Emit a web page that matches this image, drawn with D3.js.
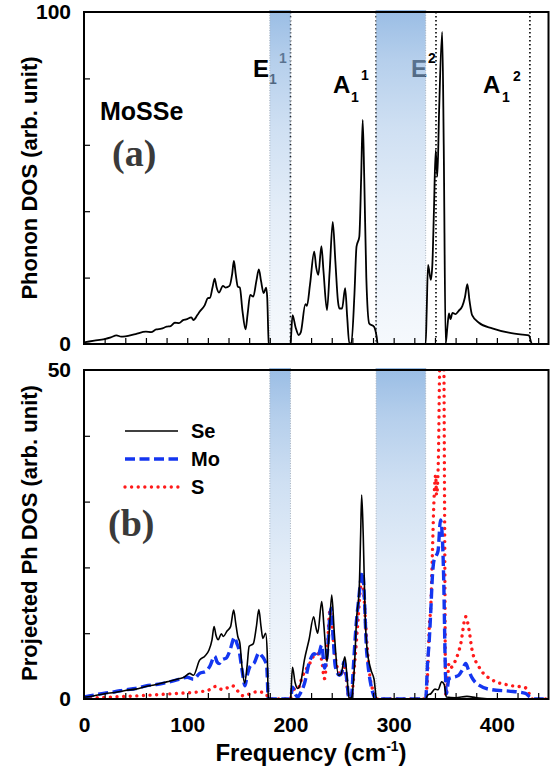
<!DOCTYPE html>
<html>
<head>
<meta charset="utf-8">
<script src="https://cdn.jsdelivr.net/npm/d3@7"></script>
<style>
  html, body { margin: 0; padding: 0; background: #fff; }
  svg { display: block; }
  text { font-family: "Liberation Sans", Arial, sans-serif; font-weight: bold; }
  text.tag { font-family: "Liberation Serif", "Times New Roman", serif; font-weight: bold; }
</style>
</head>
<body>
<svg id="chart" width="556" height="775"></svg>
<script>
// Total phonon DOS of MoSSe: [frequency (cm-1), DOS]
const totalDOS = [[0,0.5],[10,1.0],[20,1.5],[26,2.0],[31.5,2.6],[36,2.2],[40,2.3],[50,3.0],[60,3.7],[65,3.6],[70,4.4],[75,4.6],[80,5.2],[84,5.4],[88,6.4],[92,6.3],[96,7.2],[99,7.4],[104,8.0],[106,7.2],[110,8.8],[112,9.7],[117,11.7],[120,13.8],[122,13.9],[124.5,17],[126.6,19.7],[128.5,17],[130.7,15.5],[134.6,17.5],[137,17.0],[141,17.5],[143.5,21],[145.2,25],[147,21],[149,17.3],[151,17],[153.5,10],[156.5,4.4],[158.5,9],[161,14.8],[164,14.3],[167,19],[169.4,22.5],[171.5,19],[174,15.3],[176.5,17],[177.5,14],[179,0.2],[180,0],[200,0],[202,8.7],[205,5],[208,2.7],[210,3.5],[214.5,12],[216,11.5],[219,18],[223,27.8],[225,23],[227,20.8],[230,29.5],[232,22],[235.4,10.2],[238,22],[241,36.8],[243.5,25],[246,13],[247.4,10.7],[250,10.7],[253,16.8],[255,8],[257,0.2],[259,0.2],[262,15],[264,29.3],[266.7,32.3],[268.5,50],[270,67.5],[271.5,50],[273.5,20],[276.3,6.2],[281,5.2],[283.5,2.2],[284.5,0],[331,0],[332,10],[333.3,23.8],[336,19.3],[337.5,24],[339,40],[340.7,58.4],[342.3,50.4],[344,70],[347,94],[348.5,60],[350.4,0.2],[352,5],[353.6,9.2],[355,7.5],[357,9.4],[360,9],[363,10],[366.5,11.4],[369,14],[371.4,18],[373.5,13],[376,8.7],[382.6,6.4],[395.5,4.7],[411.6,3.4],[425,2.8],[431,2.6],[434,0],[450,0]];

// Projected phonon DOS per atom species
const seDOS = [[0,0.26],[10,0.5],[20,0.8],[30,1.0],[40,1.3],[50,1.5],[60,1.9],[70,2.2],[80,2.6],[92.7,3.1],[97,3.3],[102.4,3.9],[106,3.6],[112,5.9],[117,6.5],[121,7.4],[124,9],[126,11],[128,9.6],[130,9],[133,9.9],[135,9.5],[138.4,10.3],[142,11],[145,13.5],[147,11.5],[149,9.5],[151,8.5],[153,5],[155.6,2.4],[158,5],[160,8],[164,8.4],[167,11],[169.4,13.6],[171.5,11],[173.3,9.2],[176,10],[177.5,7],[178.6,0.2],[180,0],[200,0],[202,4.8],[204.5,2.5],[207,1.6],[210,2.5],[213.5,5.9],[218,9],[222.5,12.5],[224.5,11],[226.4,10],[230.3,14.8],[232.5,11],[235.4,5.7],[237.5,10],[240,15.8],[242.5,10],[246.4,3.6],[249,3.8],[252.8,6.4],[255,3],[256.8,0.1],[259,0.2],[262,5],[264,12],[266.7,17],[268,25],[269,31],[270.5,25],[272.5,12],[274,8],[278,4.4],[281,3],[283.5,0],[331,0],[333,0.6],[336,0.8],[340,1.5],[343,1.4],[346.5,2.6],[349,2.2],[351,0.3],[360,0.2],[371,0.4],[380,0.2],[400,0],[450,0]];

const moDOS = [[0,0.3],[10,0.6],[20,0.9],[30,1.1],[40,1.4],[50,1.6],[60,2.0],[70,2.2],[80,2.5],[90,2.9],[100,3.3],[106,3.0],[112,3.9],[118,4.2],[122,5],[126.6,6.5],[129,5.6],[131,5.4],[134,6.0],[137.8,6.2],[141,7.2],[146,9.4],[148,8.5],[150,7.6],[153,4.5],[156,2],[158,3.5],[161,5],[165,5.5],[169.4,7],[172,6.6],[175,5.9],[177,5],[178.5,0.2],[180,0],[200,0],[202,1.8],[204.5,0.8],[207,0.3],[210,1],[213.5,2.3],[218,5.4],[223,6.9],[226.5,6.4],[230.3,8.2],[233,4.7],[235.4,6.5],[239.3,13.8],[241.5,9],[243.5,4.9],[247.4,3.6],[249.5,3.9],[252,5.7],[254.5,3],[256.8,0],[259,0.3],[261,5],[263.5,11],[266,15],[268,18],[270,19.3],[272,14],[273.5,8],[275,5.4],[279.5,1.1],[283,0],[331,0],[333,5.9],[334.3,8.5],[336,13.5],[337.5,18.6],[339,21],[341,21.7],[343,22.5],[345.4,27.2],[347,25],[348.5,18],[350,5],[351,0.8],[353.6,3.1],[357,3.3],[360,3.4],[363,3.6],[366.5,4.4],[369.8,5.4],[372.5,4.4],[376,3.2],[382.6,2.1],[395.5,1.4],[411.6,1.2],[427.7,0.87],[432,0.3],[437,0],[450,0]];

const sDOS = [[0,0.1],[20,0.25],[47.6,0.45],[70,0.65],[90,0.85],[112,1.1],[120,1.3],[127.5,1.9],[131,1.6],[134,1.45],[139,1.7],[144,2],[147,1.6],[151,0.8],[154,0.5],[158,0.6],[162,0.9],[169,1.1],[173,1.0],[177,0.6],[179,0.1],[180,0],[200,0],[202,1.8],[204.5,1.4],[207,1.5],[212,3.6],[218,5.2],[224.8,6.9],[227.5,6.8],[230,6.1],[233,3.1],[235.5,7],[238.3,13.5],[240.5,11],[242.5,7.4],[248.8,3.6],[252.2,4.9],[254.5,2.5],[256.8,0],[259,0.3],[262.5,6],[265.5,12],[268.3,17.3],[270,17.8],[271.5,15],[273,11],[276.3,4.4],[281,0.8],[283,0],[331,0],[333,4.3],[334.5,11],[336,14.2],[337.5,22],[339,30],[340.7,34],[341.6,31],[343.3,36.3],[344.5,50],[346,60],[347.5,64],[348.5,56],[349.3,30],[350.4,0.5],[352,2.4],[353.6,5.4],[355.5,4.8],[360,5.9],[365,8.4],[369.8,12.5],[373,10.5],[376,7.4],[382.6,4.9],[395.5,2.9],[411.6,2.1],[427.7,1.7],[431,0.9],[434,0],[450,0]];

// Phonon gaps (shaded) and mode markers
const gapBands = [[180, 200], [283, 331]];
const modeLines = [200, 283, 341, 432];

// Axis ticks
const xMinorTicks = d3.range(20, 450, 20);
const xTickLabels = [0, 100, 200, 300, 400];
const topMinorTicks = [20, 40, 60, 80];
const topTickLabels = [0, 100];
const botMinorTicks = [10, 20, 30, 40];
const botTickLabels = [0, 50];

const seriesNames = ["Se", "Mo", "S"];

const svg = d3.select("#chart");
const x = d3.scaleLinear().domain([0, 450]).range([84, 548.5]);
const yTop = d3.scaleLinear().domain([0, 100]).range([344, 12]);
const yBot = d3.scaleLinear().domain([0, 50]).range([699, 370]);

// Vertical fading gradient for the gap bands
const defs = svg.append("defs");
const grad = defs.append("linearGradient").attr("id", "gapGrad")
  .attr("x1", 0).attr("y1", 0).attr("x2", 0).attr("y2", 1);
[[0, 0.88], [0.15, 0.64], [0.35, 0.42], [0.6, 0.24], [1, 0.08]].forEach(([o, a]) => {
  grad.append("stop").attr("offset", o).attr("stop-color", "#8cb4e1").attr("stop-opacity", a);
});

function clip(id, yScale) {
  defs.append("clipPath").attr("id", id).append("rect")
    .attr("x", x.range()[0]).attr("y", yScale.range()[1])
    .attr("width", x.range()[1] - x.range()[0])
    .attr("height", yScale.range()[0] - yScale.range()[1]);
}
clip("clipTop", yTop);
clip("clipBot", yBot);

// ---------- mode labels (panel a) ----------
function modeLabel(parts) {
  const t = svg.append("text");
  parts.forEach(p => {
    t.append("tspan").attr("x", p.x).attr("y", p.y)
      .attr("font-size", p.size).attr("fill", "#000").text(p.t);
  });
}
modeLabel([{t: "E", x: 253, y: 77, size: 24},
           {t: "1", x: 269, y: 84, size: 14},
           {t: "1", x: 279, y: 63, size: 14}]);
modeLabel([{t: "A", x: 333, y: 93, size: 24},
           {t: "1", x: 351, y: 102, size: 14},
           {t: "1", x: 361, y: 80, size: 14}]);
modeLabel([{t: "E", x: 411, y: 77, size: 24},
           {t: "2", x: 428, y: 63, size: 14}]);
modeLabel([{t: "A", x: 483, y: 93, size: 24},
           {t: "1", x: 502, y: 102, size: 14},
           {t: "2", x: 513, y: 81, size: 14}]);

svg.append("text").attr("x", 100).attr("y", 120).attr("font-size", 25).text("MoSSe");

// mode marker lines (panel a)
svg.append("g").selectAll("line").data(modeLines).join("line")
  .attr("x1", d => x(d)).attr("x2", d => x(d))
  .attr("y1", yTop(100)).attr("y2", yTop(0))
  .attr("stroke", "#000").attr("stroke-width", 1.6)
  .attr("stroke-dasharray", "1.6,2.4");

// ---------- gap bands in both panels ----------
function bands(yScale) {
  const g = svg.append("g");
  const top = yScale.range()[1] - 2, bot = yScale.range()[0];
  g.selectAll("rect").data(gapBands).join("rect")
    .attr("x", d => x(d[0])).attr("width", d => x(d[1]) - x(d[0]))
    .attr("y", top).attr("height", bot - top)
    .attr("fill", "url(#gapGrad)");
  g.selectAll("line").data(gapBands.flat()).join("line")
    .attr("x1", d => x(d)).attr("x2", d => x(d))
    .attr("y1", top).attr("y2", bot)
    .attr("stroke", "#a9b3bf").attr("stroke-width", 1)
    .attr("stroke-dasharray", "1,1.5");
}
bands(yTop);
bands(yBot);

// ---------- curves ----------
function curve(data, yScale, clipId, style) {
  const line = d3.line().x(d => x(d[0])).y(d => yScale(d[1])).curve(d3.curveMonotoneX);
  const p = svg.append("path").datum(data)
    .attr("d", line).attr("fill", "none")
    .attr("clip-path", `url(#${clipId})`)
    .attr("stroke-linejoin", "round");
  Object.entries(style).forEach(([k, v]) => p.attr(k, v));
}
const styles = {
  Se: {"stroke": "#000", "stroke-width": 1.6},
  Mo: {"stroke": "#1436f0", "stroke-width": 3.4, "stroke-dasharray": "10,4.5"},
  S:  {"stroke": "#ff1a1a", "stroke-width": 3.4, "stroke-dasharray": "0.01,6.6", "stroke-linecap": "round"}
};
curve(totalDOS, yTop, "clipTop", {"stroke": "#000", "stroke-width": 1.8});
curve(sDOS, yBot, "clipBot", styles.S);
curve(moDOS, yBot, "clipBot", styles.Mo);
curve(seDOS, yBot, "clipBot", styles.Se);

// ---------- axes and frames ----------
function frame(yScale, minor, labels, showX) {
  const y0 = yScale.range()[0], y1 = yScale.range()[1];
  const g = svg.append("g");
  // inward minor ticks
  g.append("g").attr("transform", `translate(0,${y0})`)
    .call(d3.axisBottom(x).tickValues(xMinorTicks).tickSizeInner(-6).tickSizeOuter(0).tickFormat(""))
    .call(a => a.select(".domain").remove())
    .call(a => a.selectAll("line").attr("stroke", "#000").attr("stroke-width", 1.2));
  g.append("g").attr("transform", `translate(${x.range()[0]},0)`)
    .call(d3.axisLeft(yScale).tickValues(minor).tickSizeInner(-6).tickSizeOuter(0).tickFormat(""))
    .call(a => a.select(".domain").remove())
    .call(a => a.selectAll("line").attr("stroke", "#000").attr("stroke-width", 1.2));
  // y labels
  g.append("g").attr("transform", `translate(${x.range()[0]},0)`)
    .call(d3.axisLeft(yScale).tickValues(labels).tickSize(0).tickPadding(13))
    .call(a => a.select(".domain").remove())
    .call(a => a.selectAll("text").attr("font-size", 21).attr("fill", "#000"));
  if (showX) {
    g.append("g").attr("transform", `translate(0,${y0})`)
      .call(d3.axisBottom(x).tickValues(xTickLabels).tickSize(0).tickPadding(18))
      .call(a => a.select(".domain").remove())
      .call(a => a.selectAll("text").attr("font-size", 21).attr("fill", "#000"));
  }
  g.append("rect").attr("x", x.range()[0]).attr("y", y1)
    .attr("width", x.range()[1] - x.range()[0]).attr("height", y0 - y1)
    .attr("fill", "none").attr("stroke", "#000").attr("stroke-width", 2);
}
frame(yTop, topMinorTicks, topTickLabels, false);
frame(yBot, botMinorTicks, botTickLabels, true);

// ---------- axis titles ----------
svg.append("text").attr("transform", "translate(37,178) rotate(-90)")
  .attr("text-anchor", "middle").attr("font-size", 22).text("Phonon DOS (arb. unit)");
svg.append("text").attr("transform", "translate(37,533) rotate(-90)")
  .attr("text-anchor", "middle").attr("font-size", 22).text("Projected Ph DOS (arb. unit)");
const xt = svg.append("text").attr("x", 311).attr("y", 761).attr("text-anchor", "middle").attr("font-size", 24);
xt.append("tspan").text("Frequency (cm");
xt.append("tspan").attr("font-size", 14).attr("dy", -10).text("-1");
xt.append("tspan").attr("dy", 10).text(")");

// panel tags
svg.append("text").attr("class", "tag").attr("x", 112).attr("y", 166).attr("font-size", 38)
  .attr("fill", "#3a3a3a").text("(a)");
svg.append("text").attr("class", "tag").attr("x", 108).attr("y", 536).attr("font-size", 38)
  .attr("fill", "#3a3a3a").text("(b)");

// ---------- legend ----------
const legend = svg.append("g");
seriesNames.forEach((name, i) => {
  const ly = 431 + i * 28;
  legend.append("line").attr("x1", 125).attr("x2", 178).attr("y1", ly).attr("y2", ly)
    .each(function () { const l = d3.select(this); Object.entries(styles[name]).forEach(([k, v]) => l.attr(k, v)); });
  legend.append("text").attr("x", 191).attr("y", ly + 7).attr("font-size", 20).text(name);
});
</script>
</body>
</html>
